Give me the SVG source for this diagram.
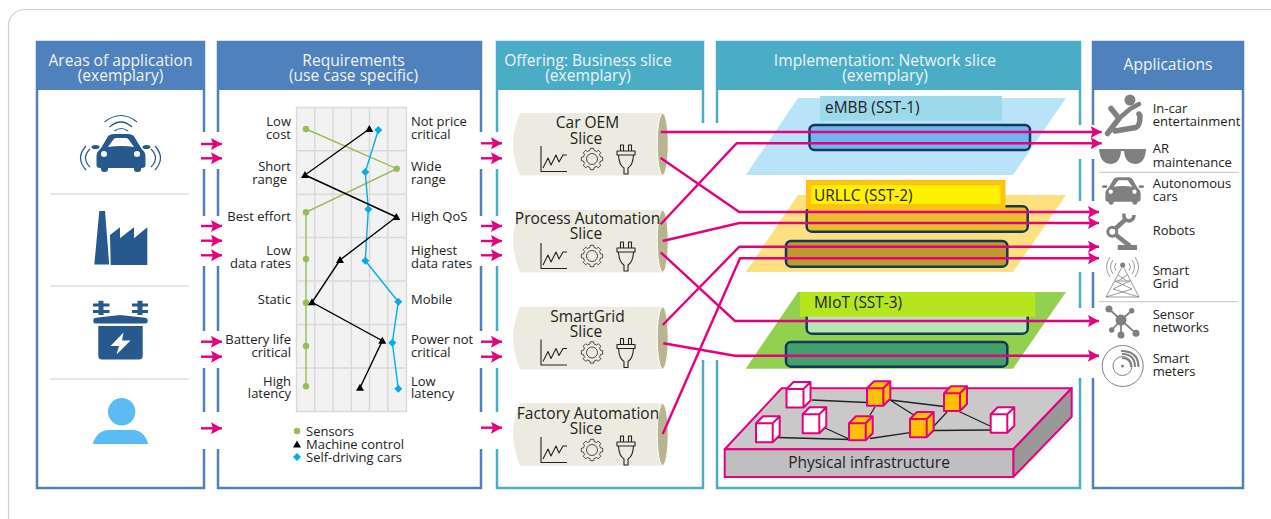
<svg xmlns="http://www.w3.org/2000/svg" xmlns:xlink="http://www.w3.org/1999/xlink" width="1271" height="519" viewBox="0 0 1271 519">
<style>
text{font-family:"Open Sans","Noto Sans","Liberation Sans",sans-serif;fill:#222}
.h{font-size:15.6px;fill:#eef3fa;text-anchor:middle}
.l{font-size:13px}
.r{text-anchor:end}
.s{font-size:15.5px;text-anchor:middle}
.n{font-size:15.4px}
.pb{fill:none;stroke:#5080bd;stroke-width:2.5}
.pt{fill:none;stroke:#4bacc6;stroke-width:2.5}
.div{stroke:#cfcfcf;stroke-width:1.2}
.grid{stroke:#d9d9d9;stroke-width:1.4;fill:none}
.gap{fill:#fff}
.sl{fill:none;stroke:#e6007e;stroke-width:2.4;marker-end:url(#ah)}
.slab{stroke:#12395c;stroke-width:2.5}
.w{fill:#fff;stroke:#e6007e;stroke-width:2;stroke-linejoin:round}
.o{fill:#ffc000;stroke:#e6007e;stroke-width:2;stroke-linejoin:round}
.net{stroke:#222;stroke-width:1.3;fill:none}
.g{fill:#808080}
.gl{fill:none;stroke:#808080}
.bl{fill:none;stroke:#27598f;stroke-width:1.2}
.ic{fill:none;stroke:#222;stroke-width:1.1;stroke-linejoin:round}
.gr{fill:none;stroke:#222;stroke-width:.8;stroke-linejoin:round}
</style>
<defs>
<marker id="ah" markerUnits="userSpaceOnUse" markerWidth="12" markerHeight="12" refX="11" refY="6" orient="auto"><path d="M0,0L11,6L0,12L2,6Z" fill="#e6007e"/></marker>
<g id="car">
<path d="M-24.5,4C-24.5,-2 -21,-3 -20,-5L-14,-15C-13,-18 -10,-19 -7,-19H7C10,-19 13,-18 14,-15L20,-5C21,-3 24.5,-2 24.5,4V12Q24.5,15 21,15H-21Q-24.5,15 -24.5,12Z"/>
<rect x="-20" y="12" width="7" height="7" rx="3"/><rect x="13" y="12" width="7" height="7" rx="3"/>
<ellipse cx="-25.5" cy="-6" rx="4" ry="2"/><ellipse cx="25.5" cy="-6" rx="4" ry="2"/>
<path d="M-13,-6L-8,-13Q-7,-15 -5,-15H5Q7,-15 8,-13L13,-6Q0,-8 -13,-6Z" fill="#fff"/>
<circle cx="-17" cy="1" r="3" fill="#fff"/><circle cx="16" cy="1" r="3" fill="#fff"/>
</g>
<g id="tools">
<path class="ic" d="M541,146V171.500H567"/>
<path class="ic" d="M543,168L548,158L551,165L556,155L559,162L563,155H567"/>
<g transform="translate(592,159)"><path class="gr" d="M10.67,-1.69L10.67,1.69L8.54,2.13L7.54,4.53L8.74,6.35L6.35,8.74L4.53,7.54L2.13,8.54L1.69,10.67L-1.69,10.67L-2.13,8.54L-4.53,7.54L-6.35,8.74L-8.74,6.35L-7.54,4.53L-8.54,2.13L-10.67,1.69L-10.67,-1.69L-8.54,-2.13L-7.54,-4.53L-8.74,-6.35L-6.35,-8.74L-4.53,-7.54L-2.13,-8.54L-1.69,-10.67L1.69,-10.67L2.13,-8.54L4.53,-7.54L6.35,-8.74L8.74,-6.35L7.54,-4.53L8.54,-2.13Z"/><circle class="gr" r="5.500"/></g>
<path class="ic" d="M620.500,151V145H623.500V151M628.500,151V145H631.500V151M617,151H635V155H617ZM618.500,155Q619,165 624,168V174H628V168Q633,165 633.500,155"/>
</g>
<g id="cyl">
<path d="M520,0H662V62.500H520Q513,45 513,31Q513,17 520,0Z" fill="#edebe0"/>
<ellipse cx="662.700" cy="31.200" rx="5.500" ry="31" fill="#b8b48f" stroke="#fff"/>
</g>
</defs>
<rect x="8.500" y="9.500" width="1330" height="540" rx="16" fill="#fff" stroke="#cfcfcf" stroke-width="1.200"/>

<g id="panel-areas">
<rect x="36" y="41" width="169" height="49" fill="#4f81bd"/><rect class="pb" x="37" y="42" width="167" height="446"/>
<text class="h" x="120.500" y="66">Areas of application</text><text class="h" x="120.500" y="81">(exemplary)</text>
<line class="div" x1="50" x2="189" y1="194" y2="194"/><line class="div" x1="50" x2="189" y1="286" y2="286"/><line class="div" x1="50" x2="189" y1="379" y2="379"/>
<g transform="translate(121,153)" fill="#27598f"><use xlink:href="#car" href="#car"/></g>
<path class="bl" d="M104.500,122Q121,109 137,122M109.500,127Q121,117 132,127M114.500,131Q121,126 128,131M86,146Q75,158 86,170M90,149Q81,158 90,167M155,146Q166,158 155,170M151,149Q160,158 151,167"/>
<path fill="#27598f" d="M99.300,211H105L109.200,264.500H94.300ZM110,235L120,227.300V238.300L134,227.300V238.300L147.300,227.300V265H110.700Z"/>
<path fill="#27598f" d="M93.300,320Q93.300,318 96,317.800L120,315L145,317.800Q147.700,318 147.700,320V321Q147.700,323.500 145,323.500H96Q93.300,323.500 93.300,321ZM98.300,326H142.700V356Q142.700,359.500 139,359.500H102Q98.300,359.500 98.300,356ZM98.500,300.700H103.500V303.500H109.500V306.500H103.500V310H109.500V313H103.500V315H98.500V313H93V310H98.500V306.500H93V303.500H98.500ZM137.500,300.700H142.500V303.500H148V306.500H142.500V310H148V313H142.500V315H137.500V313H132V310H137.500V306.500H132V303.500H137.500Z"/>
<path fill="#fff" d="M123.500,332.500L110.500,346H119L116.500,354.500L130.500,340.500H122Z"/>
<circle cx="121.700" cy="411.700" r="13.700" fill="#5bbcf4"/><path fill="#5bbcf4" d="M92.700,444Q97,430 109,430H133Q144,430 148.300,444Z"/>
</g>

<g id="panel-requirements">
<rect x="217" y="41" width="265" height="49" fill="#4f81bd"/><rect class="pb" x="218" y="42" width="263" height="446"/>
<text class="h" x="353.500" y="66">Requirements</text><text class="h" x="353.500" y="81">(use case specific)</text>
<rect x="296.500" y="107.500" width="110" height="304" fill="#f2f2f2"/>
<path class="grid" d="M296.500,107.500H406.500V411.500H296.500ZM314.800,107.500V411.500M333,107.500V411.500M351.300,107.500V411.500M369.500,107.500V411.500M387.800,107.500V411.500M296.500,150.800H406.500M296.500,194.200H406.500M296.500,237.500H406.500M296.500,281H406.500M296.500,324.500H406.500M296.500,368H406.500"/>
<polyline fill="none" stroke="#9bbb59" stroke-width="1.400" points="306,129 396.700,168.700 306,212.300 306,259 306,302.700 306,346 306,386.300"/>
<polyline fill="none" stroke="#00aeef" stroke-width="1.400" points="378.300,130 365.300,172 368.300,209.300 365.300,260.700 398.300,301.700 392.300,342.700 398.300,388.700"/>
<polyline fill="none" stroke="#000" stroke-width="1.400" points="369.300,129 305,175 396.300,217 340,260 312,302.300 382.300,340.700 360,387.700"/>
<g fill="#9bbb59"><circle cx="306" cy="129" r="3.200"/><circle cx="396.700" cy="168.700" r="3.200"/><circle cx="306" cy="212.300" r="3.200"/><circle cx="306" cy="259" r="3.200"/><circle cx="306" cy="302.700" r="3.200"/><circle cx="306" cy="346" r="3.200"/><circle cx="306" cy="386.300" r="3.200"/><circle cx="297" cy="431" r="3.200"/></g>
<path fill="#00aeef" d="M378.300,126l4,4l-4,4l-4,-4ZM365.300,168l4,4l-4,4l-4,-4ZM368.300,205.300l4,4l-4,4l-4,-4ZM365.300,256.700l4,4l-4,4l-4,-4ZM398.300,297.700l4,4l-4,4l-4,-4ZM392.300,338.700l4,4l-4,4l-4,-4ZM398.300,384.700l4,4l-4,4l-4,-4ZM297,453l4,4l-4,4l-4,-4Z"/>
<path fill="#000" d="M369.300,125l4,7h-8ZM305,171l4,7h-8ZM396.300,213l4,7h-8ZM340,256l4,7h-8ZM312,298.300l4,7h-8ZM382.300,336.700l4,7h-8ZM360,383.700l4,7h-8ZM297,440.500l4,7h-8Z"/>
<text class="l r" x="291" y="126">Low</text><text class="l r" x="291" y="139">cost</text>
<text class="l r" x="291" y="171">Short</text><text class="l r" x="287" y="184">range</text>
<text class="l r" x="291" y="221">Best effort</text>
<text class="l r" x="291" y="255">Low</text><text class="l r" x="291" y="268">data rates</text>
<text class="l r" x="291" y="304">Static</text>
<text class="l r" x="291" y="344">Battery life</text><text class="l r" x="291" y="357">critical</text>
<text class="l r" x="291" y="386">High</text><text class="l r" x="291" y="398">latency</text>
<text class="l" x="411" y="126">Not price</text><text class="l" x="411" y="139">critical</text>
<text class="l" x="411" y="171">Wide</text><text class="l" x="411" y="184">range</text>
<text class="l" x="411" y="221">High QoS</text>
<text class="l" x="411" y="255">Highest</text><text class="l" x="411" y="268">data rates</text>
<text class="l" x="411" y="304">Mobile</text>
<text class="l" x="411" y="344">Power not</text><text class="l" x="411" y="357">critical</text>
<text class="l" x="411" y="386">Low</text><text class="l" x="411" y="398">latency</text>
<text class="l" x="306" y="436">Sensors</text><text class="l" x="306" y="449">Machine control</text><text class="l" x="306" y="462">Self-driving cars</text>
</g>

<g id="panel-offering">
<rect x="496" y="41" width="208" height="49" fill="#4bacc6"/><rect class="pt" x="497" y="42" width="206" height="446"/>
<text class="h" x="588" y="66">Offering: Business slice</text><text class="h" x="588" y="81">(exemplary)</text>
</g>
<g id="panel-implementation">
<rect x="716" y="41" width="365" height="49" fill="#4bacc6"/><rect class="pt" x="717" y="42" width="363" height="446"/>
<text class="h" x="885" y="66">Implementation: Network slice</text><text class="h" x="885" y="81">(exemplary)</text>
</g>
<g id="panel-applications">
<rect x="1092" y="41" width="152" height="49" fill="#4f81bd"/><rect class="pb" x="1093" y="42" width="150" height="446"/>
<text class="h" x="1168" y="70">Applications</text>
<line class="div" x1="1099" x2="1238" y1="172.300" y2="172.300"/><line class="div" x1="1099" x2="1238" y1="301.700" y2="301.700"/>
</g>

<g id="gaps">
<rect class="gap" x="201" y="132" width="19" height="37"/><rect class="gap" x="201" y="216" width="19" height="50"/><rect class="gap" x="201" y="331" width="19" height="37"/><rect class="gap" x="201" y="412" width="19" height="37"/>
<rect class="gap" x="478" y="132" width="21" height="37"/><rect class="gap" x="478" y="216" width="21" height="50"/><rect class="gap" x="478" y="331" width="21" height="37"/><rect class="gap" x="478" y="412" width="21" height="37"/>
<rect class="gap" x="700" y="123" width="20" height="237"/>
<rect class="gap" x="1077" y="125" width="18" height="34"/><rect class="gap" x="1077" y="201" width="18" height="71"/><rect class="gap" x="1077" y="308" width="18" height="70"/>
</g>

<g id="slice-car-oem"><use xlink:href="#cyl" href="#cyl" y="113"/><use xlink:href="#tools" href="#tools"/><text class="s" x="587.500" y="128">Car OEM</text><text class="s" x="586" y="144">Slice</text></g>
<g id="slice-process"><use xlink:href="#cyl" href="#cyl" y="210"/><use xlink:href="#tools" href="#tools" y="97"/><text class="s" x="587.500" y="224">Process Automation</text><text class="s" x="586" y="239">Slice</text></g>
<g id="slice-smartgrid"><use xlink:href="#cyl" href="#cyl" y="306.700"/><use xlink:href="#tools" href="#tools" y="193.500"/><text class="s" x="587.500" y="322">SmartGrid</text><text class="s" x="586" y="337">Slice</text></g>
<g id="slice-factory"><use xlink:href="#cyl" href="#cyl" y="403.300"/><use xlink:href="#tools" href="#tools" y="291"/><text class="s" x="588" y="419">Factory Automation</text><text class="s" x="586" y="434">Slice</text></g>

<g id="sst-1">
<path fill="#b9e3f8" d="M798,98H1066L1013,175H745.700Z"/>
<rect x="820" y="96" width="182" height="24.700" fill="#9bd9eb"/>
<text class="n" x="825" y="113">eMBB (SST-1)</text>
<rect class="slab" x="809.500" y="125" width="220.500" height="25" rx="5" fill="#6fb6f0"/>
</g>
<g id="sst-2">
<path fill="#ffe07f" d="M798,195H1066L1013,272H745.700Z"/>
<rect class="slab" x="806.700" y="206.300" width="221" height="25.400" rx="5" fill="#e8c02c"/>
<rect class="slab" x="786" y="241" width="221.300" height="25.700" rx="5" fill="#bd9b2c"/>
<rect x="808.500" y="182.500" width="194.500" height="24" fill="#fff200" stroke="#ffc20e" stroke-width="5"/>
<text class="n" x="814" y="200.700">URLLC (SST-2)</text>
</g>
<g id="sst-3">
<path fill="#92d050" d="M798,292H1066L1013,368.700H745.700Z"/>
<rect class="slab" x="806.700" y="306" width="221" height="27.700" rx="5" fill="#b4e8b4"/>
<rect class="slab" x="786" y="342" width="221.300" height="24.700" rx="5" fill="#42a06c"/>
<rect x="800" y="292" width="235.300" height="24.700" fill="#b5e61d"/>
<text class="n" x="814" y="308">MIoT (SST-3)</text>
</g>
<g id="physical-infrastructure">
<path fill="#c9c9c9" stroke="#e6007e" stroke-width="2" stroke-linejoin="round" d="M724.700,449.300H1013.300L1071.700,388.300H781.700Z"/>
<path fill="#999" stroke="#e6007e" stroke-width="2" stroke-linejoin="round" d="M1013.300,449.300L1071.700,388.300V416.700L1013.300,477Z"/>
<rect x="724.700" y="449.300" width="288.600" height="27.700" fill="#bfbfbf" stroke="#e6007e" stroke-width="2"/>
<text class="s" x="869" y="467.700">Physical infrastructure</text>
<path class="net" d="M812,400L867,402.500M890,400L944,406.500M890,400L917,417M875,407L870,415M825,428L848,438.500M778,437.500L849,439.500M870,438.500L910,432.700M933,427L947,412M933,430.500L990,430M958,411L990,426"/>
<g class="w"><path d="M786.500,389H803.500V407.500H786.500ZM786.500,389L793.500,382H810.500L803.500,389ZM803.500,389L810.500,382V400.500L803.500,407.500Z"/>
<path d="M990.700,414.300H1007.300V432.700H990.700ZM990.700,414.300L997.700,407.300H1014.300L1007.300,414.300ZM1007.300,414.300L1014.300,407.300V425.700L1007.300,432.700Z"/>
<path d="M802.700,414.300H819.300V433.300H802.700ZM802.700,414.300L809.700,407.300H826.300L819.300,414.300ZM819.300,414.300L826.300,407.300V426.300L819.300,433.300Z"/>
<path d="M756,423.300H772.700V442.300H756ZM756,423.300L763,416.300H779.700L772.700,423.300ZM772.700,423.300L779.700,416.300V435.300L772.700,442.300Z"/></g>
<g class="o"><path d="M867,388.300H883.300V405.700H867ZM867,388.300L874,381.300H890.300L883.300,388.300ZM883.300,388.300L890.300,381.300V398.700L883.300,405.700Z"/>
<path d="M944,393.300H960V411H944ZM944,393.300L951,386.300H967L960,393.300ZM960,393.300L967,386.300V404L960,411Z"/>
<path d="M849,423.300H865.700V440.300H849ZM849,423.300L856,416.300H872.700L865.700,423.300ZM865.700,423.300L872.700,416.300V433.300L865.700,440.300Z"/>
<path d="M910,419H926.700V437.300H910ZM910,419L917,412H933.700L926.700,419ZM926.700,419L933.700,412V430.300L926.700,437.300Z"/></g>
</g>

<g id="app-incar">
<circle class="g" cx="1130" cy="100" r="5.500"/>
<path class="gl" stroke-width="5.500" stroke-linecap="round" stroke-linejoin="round" d="M1107.500,133.500L1119,118.500L1111,108.500"/>
<path class="gl" stroke-width="4.500" stroke-linecap="round" stroke-linejoin="round" d="M1119,118.500L1130,109L1139,104"/>
<path class="gl" stroke-width="5.500" stroke-linecap="round" stroke-linejoin="round" d="M1115,131L1136,127.500Q1140,126 1140,116L1139,114"/>
<text class="l" x="1152.700" y="113">In-car</text><text class="l" x="1152.700" y="126">entertainment</text>
</g>
<g id="app-ar">
<path class="g" d="M1099,149H1121Q1121,164 1110,164Q1100,163 1099,149ZM1124,149H1146Q1145,164 1135,164Q1124,163 1124,149ZM1120,149H1125V151H1120Z"/>
<text class="l" x="1152.700" y="153">AR</text><text class="l" x="1152.700" y="167">maintenance</text>
</g>
<g id="app-cars">
<g transform="translate(1123,191) scale(.72)" fill="#808080"><use xlink:href="#car" href="#car"/></g>
<text class="l" x="1152.700" y="188">Autonomous</text><text class="l" x="1152.700" y="201">cars</text>
</g>
<g id="app-robots">
<circle class="gl" cx="1112.300" cy="231.700" r="4.500" stroke-width="3"/>
<path class="gl" stroke-width="4.500" d="M1115.500,228.500L1126,219M1116,235L1130,246"/>
<path class="gl" stroke-width="3.500" d="M1124,213.500Q1123,220 1129,221Q1134,220 1134,215"/>
<rect class="g" x="1117.700" y="245" width="19.300" height="5"/>
<text class="l" x="1152.700" y="235">Robots</text>
</g>
<g id="app-grid">
<circle class="g" cx="1122.700" cy="265" r="2.500"/>
<path class="gl" stroke-width=".8" d="M1122,267L1106,297H1139L1123.500,267M1115,281L1132,289L1106,297M1130,281L1113,289L1139,297M1115,281H1130M1118,275L1127,281M1127,275L1118,281M1116,263Q1113,267 1116,271M1129,263Q1132,267 1129,271M1113,260Q1108,267 1113,274M1132,260Q1137,267 1132,274M1110,257Q1103,267 1110,277M1135,257Q1142,267 1135,277"/>
<text class="l" x="1152.700" y="275">Smart</text><text class="l" x="1152.700" y="288">Grid</text>
</g>
<g id="app-sensors">
<path class="gl" stroke-width="1.800" d="M1109,309L1121,320L1131.700,310.700M1111.700,330L1121,320L1121,335M1121,320L1136,333.300"/>
<g class="g"><circle cx="1121" cy="320" r="5.500"/><circle cx="1109" cy="309" r="3.500"/><circle cx="1131.700" cy="310.700" r="2.700"/><circle cx="1111.700" cy="330" r="2.700"/><circle cx="1121" cy="335" r="3.500"/><circle cx="1136" cy="333.300" r="3.500"/></g>
<text class="l" x="1152.700" y="319">Sensor</text><text class="l" x="1152.700" y="332">networks</text>
</g>
<g id="app-meters">
<circle class="gl" cx="1122.700" cy="366" r="20.500" stroke-width="1"/>
<circle class="g" cx="1122.500" cy="366" r="1.500"/>
<circle class="gl" cx="1122.500" cy="366" r="9.500" stroke-width="1"/>
<path class="gl" stroke-width="2" d="M1122,358Q1131,358 1131,367M1122,354Q1135,354 1135,367M1121,351Q1138.500,351 1138.500,367"/>
<text class="l" x="1152.700" y="363">Smart</text><text class="l" x="1152.700" y="376">meters</text>
</g>

<g id="connectors">
<path class="sl" d="M201,144H222"/><path class="sl" d="M201,158.300H222"/><path class="sl" d="M201,226H222"/><path class="sl" d="M201,240.700H222"/><path class="sl" d="M201,255.300H222"/><path class="sl" d="M201,341.700H222"/><path class="sl" d="M201,356.700H222"/><path class="sl" d="M201,428.300H222"/>
<path class="sl" d="M481,143.300H502"/><path class="sl" d="M481,158.300H502"/><path class="sl" d="M481,226H502"/><path class="sl" d="M481,241H502"/><path class="sl" d="M481,255.300H502"/><path class="sl" d="M481,341.700H502"/><path class="sl" d="M481,356.700H502"/><path class="sl" d="M481,427.700H502"/>
<path class="sl" d="M660.700,132H1101.700"/>
<path class="sl" d="M660.700,158L739.300,212H1099"/>
<path class="sl" d="M660.700,224.300L736.700,143.300H1101.700"/>
<path class="sl" d="M662.700,241L739.300,223H1099"/>
<path class="sl" d="M660.700,252.300L735,321H1099"/>
<path class="sl" d="M662.700,325L739.300,246.700H1099"/>
<path class="sl" d="M662.700,434L740,258.300H1099"/>
<path class="sl" d="M663.300,343.300L735,355.700H1099"/>
</g>
</svg>
